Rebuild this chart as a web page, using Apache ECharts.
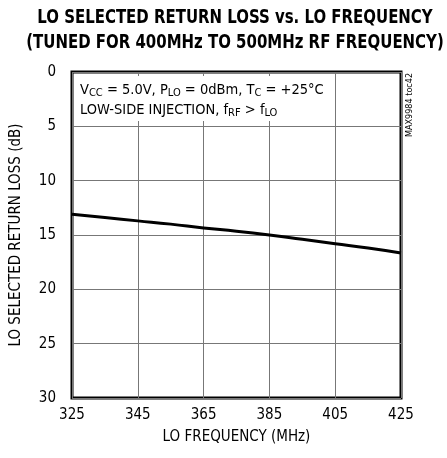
<!DOCTYPE html>
<html>
<head>
<meta charset="utf-8">
<script src="https://cdn.jsdelivr.net/npm/echarts@6/dist/echarts.min.js"></script>
<style>
  html, body { margin: 0; padding: 0; background: #fff; }
  #chart { width: 447px; height: 458px; }
</style>
</head>
<body>
<div id="chart"></div>
<script>
// LO frequency (MHz) and return loss (dB)
var loFreq = [325, 335, 345, 355, 365, 375, 385, 395, 405, 415, 425];
var returnLoss = [13.1, 13.4, 13.7, 14.0, 14.35, 14.65, 15.0, 15.4, 15.8, 16.2, 16.65];
var xTicks = [325, 345, 365, 385, 405, 425];
var yTicks = [0, 5, 10, 15, 20, 25, 30];

var font = '"DejaVu Sans Condensed", "Roboto Condensed", "Liberation Sans Narrow", Roboto, sans-serif';

var chart = echarts.init(document.getElementById('chart'));
var option = {
  animation: false,
  grid: {
    left: 72, right: 46, top: 72, bottom: 60,
    show: true,
    borderColor: '#000',
    borderWidth: 3
  },
  xAxis: {
    type: 'value',
    min: xTicks[0],
    max: xTicks[xTicks.length - 1],
    interval: 20,
    name: 'LO FREQUENCY (MHz)',
    nameLocation: 'middle',
    nameGap: 32,
    nameTextStyle: { fontFamily: font, fontSize: 15, color: '#000' },
    axisLine: { show: false },
    axisTick: { show: false },
    axisLabel: { fontFamily: font, fontSize: 15, color: '#000', margin: 10 },
    splitLine: { lineStyle: { color: '#777', width: 1 } }
  },
  yAxis: {
    type: 'value',
    inverse: true,
    min: yTicks[0],
    max: yTicks[yTicks.length - 1],
    interval: 5,
    name: 'LO SELECTED RETURN LOSS (dB)',
    nameLocation: 'middle',
    nameGap: 48,
    nameTextStyle: { fontFamily: font, fontSize: 15, color: '#000' },
    axisLine: { show: false },
    axisTick: { show: false },
    axisLabel: { fontFamily: font, fontSize: 15, color: '#000', margin: 16 },
    splitLine: { lineStyle: { color: '#777', width: 1 } }
  },
  graphic: [
    {
      type: 'text',
      x: 235, y: 6,
      scaleX: 0.875,
      style: {
        text: 'LO SELECTED RETURN LOSS vs. LO FREQUENCY\n(TUNED FOR 400MHz TO 500MHz RF FREQUENCY)',
        font: 'bold 19px ' + font,
        fill: '#000',
        align: 'center',
        lineHeight: 25
      }
    },
    {
      type: 'rect',
      shape: { x: 74, y: 76, width: 256, height: 45 },
      style: { fill: '#fff' },
      z: 100
    },
    {
      type: 'text',
      x: 80, y: 80,
      z: 101,
      style: {
        text: 'V{s|CC} = 5.0V, P{s|LO} = 0dBm, T{s|C} = +25°C\nLOW-SIDE INJECTION, f{s|RF} > f{s|LO}',
        font: '14.5px ' + font,
        fill: '#000',
        lineHeight: 20,
        rich: {
          s: { fontSize: 11, fontFamily: font, padding: [6, 0, 0, 0], lineHeight: 20 }
        }
      }
    },
    {
      type: 'text',
      x: 414, y: 137,
      rotation: Math.PI / 2,
      z: 101,
      style: {
        text: 'MAX9984 toc42',
        font: '9px ' + font,
        fill: '#000',
        align: 'left',
        verticalAlign: 'bottom'
      }
    }
  ],
  series: [
    {
      type: 'line',
      data: loFreq.map(function (f, i) { return [f, returnLoss[i]]; }),
      symbol: 'none',
      smooth: true,
      lineStyle: { color: '#000', width: 3 },
      z: 5
    }
  ]
};
chart.setOption(option);
</script>
</body>
</html>
